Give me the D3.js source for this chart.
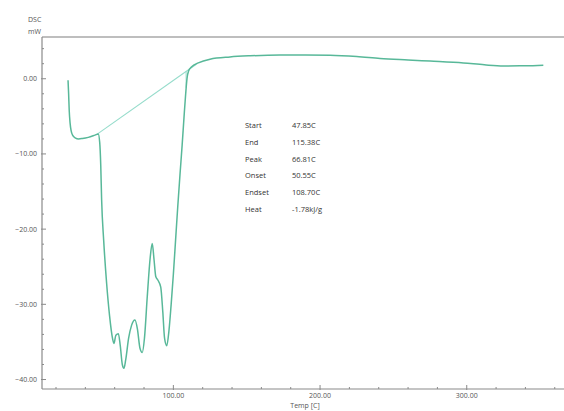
<!DOCTYPE html>
<html>
<head>
<meta charset="utf-8">
<script src="https://cdn.jsdelivr.net/npm/d3@7"></script>
<style>
  body { margin: 0; background: #fff; }
  svg { display: block; font-family: "Open Sans", "DejaVu Sans", sans-serif; }
</style>
</head>
<body>
<div id="chart"></div>
<script>
"use strict";

// DSC curve: temperature [C], heat flow [mW]
const temps = [28.2, 28.6, 29.0, 29.6, 30.3, 31.3, 33.0, 35.5, 38.0, 42.0, 46.6, 48.8, 49.8, 50.5, 51.1, 52.5, 54.5,
  56.5, 58.5, 59.5, 60.8, 62.5, 63.8, 65.2, 66.3, 67.5, 69.5, 71.5, 73.8, 75.5, 77.2, 78.8,
  80.3, 82.2, 84.2, 85.6, 86.8, 88.0, 89.5, 91.4, 92.8, 94.0, 95.5, 97.0, 98.5, 100.0, 101.5,
  103.0, 104.5, 106.0, 107.3, 108.4, 109.3, 110.3, 112.5, 117.0, 125.0, 138.6, 152.3, 172.7, 190.0,
  206.8, 225.0, 240.9, 260.0, 275.0, 297.7, 312.0, 325.0, 340.0, 352.2];
const flows = [-0.2, -2.0, -4.2, -5.9, -6.9, -7.5, -7.85, -8.0, -7.95, -7.8, -7.5, -7.35, -8.5, -11.5, -16.1, -21.5, -27.2,
  -31.5, -34.5, -35.2, -34.1, -33.9, -35.5, -38.0, -38.5, -37.4, -34.5, -32.8, -32.1, -33.3, -35.8, -36.4,
  -34.5, -29.0, -23.8, -21.9, -24.0, -26.3, -26.8, -27.7, -31.0, -34.5, -35.5, -33.5, -30.0, -26.0, -21.5,
  -17.0, -12.8, -8.8, -5.0, -2.0, 0.0, 1.0, 1.6, 2.1, 2.6, 2.9, 3.05, 3.15, 3.15,
  3.12, 2.95, 2.7, 2.5, 2.35, 2.1, 1.85, 1.7, 1.72, 1.8];

// peak baseline (start -> end) and endset marker
const baseTemps = [47.85, 115.38];
const baseFlows = [-7.4, 1.9];
const endsetTemp = 108.70;
const endsetFlows = [1.0, -1.2];

// analysis results table
const resultLabels = ["Start", "End", "Peak", "Onset", "Endset", "Heat"];
const resultValues = ["47.85C", "115.38C", "66.81C", "50.55C", "108.70C", "-1.78kJ/g"];

// axis ticks
const xMajor = [100, 200, 300];
const yMajor = [0, -10, -20, -30, -40];

const W = 564, H = 411;
const plot = { left: 42, right: 564, top: 37, bottom: 389 };

const svg = d3.select("#chart").append("svg")
  .attr("width", W).attr("height", H);

const x = d3.scaleLinear().domain([10.45, 366.3]).range([plot.left, plot.right]);
const y = d3.scaleLinear().domain([5.55, -41.26]).range([plot.top, plot.bottom]);

const axisColor = "#8a8a8a";
const textColor = "#555";

// top frame line
svg.append("line")
  .attr("x1", plot.left).attr("x2", plot.right).attr("y1", plot.top).attr("y2", plot.top)
  .attr("stroke", "#a8a8a8").attr("stroke-width", 1.3);

// y axis (ticks pointing inward)
const yMinor = d3.range(4, -41, -2).filter(v => !yMajor.includes(v));
const yAxis = svg.append("g").attr("transform", `translate(${plot.left},0)`);
yAxis.append("line").attr("x1", 0).attr("x2", 0).attr("y1", plot.top).attr("y2", plot.bottom)
  .attr("stroke", axisColor).attr("stroke-width", 1.2);
yAxis.selectAll(".ymin").data(yMinor).join("line")
  .attr("x1", 0).attr("x2", 2).attr("y1", d => y(d)).attr("y2", d => y(d))
  .attr("stroke", axisColor);
yAxis.selectAll(".ymaj").data(yMajor).join("line")
  .attr("x1", -1).attr("x2", 4).attr("y1", d => y(d)).attr("y2", d => y(d))
  .attr("stroke", axisColor);
yAxis.selectAll("text").data(yMajor).join("text")
  .attr("x", -5).attr("y", d => y(d)).attr("dy", "0.35em")
  .attr("text-anchor", "end").attr("font-size", 7).attr("fill", textColor)
  .text(d => d3.format(".2f")(d));

// x axis
const xMinor = d3.range(20, 366, 20).filter(v => !xMajor.includes(v));
const xAxis = svg.append("g").attr("transform", `translate(0,${plot.bottom})`);
xAxis.append("line").attr("x1", plot.left).attr("x2", plot.right).attr("y1", 0).attr("y2", 0)
  .attr("stroke", axisColor).attr("stroke-width", 1.2);
xAxis.selectAll(".xmin").data(xMinor).join("line")
  .attr("x1", d => x(d)).attr("x2", d => x(d)).attr("y1", 0).attr("y2", -2)
  .attr("stroke", axisColor);
xAxis.selectAll(".xmaj").data(xMajor).join("line")
  .attr("x1", d => x(d)).attr("x2", d => x(d)).attr("y1", 1).attr("y2", -4)
  .attr("stroke", axisColor);
xAxis.selectAll("text").data(xMajor).join("text")
  .attr("x", d => x(d)).attr("y", 9)
  .attr("text-anchor", "middle").attr("font-size", 7).attr("fill", textColor)
  .text(d => d3.format(".2f")(d));

// axis titles
svg.append("text").attr("x", 28).attr("y", 22).attr("font-size", 7).attr("fill", textColor).text("DSC");
svg.append("text").attr("x", 28).attr("y", 34).attr("font-size", 7).attr("fill", textColor).text("mW");
svg.append("text").attr("x", 305).attr("y", 408).attr("text-anchor", "middle")
  .attr("font-size", 7).attr("fill", textColor).text("Temp  [C]");

// baseline and endset marker
svg.append("line")
  .attr("x1", x(baseTemps[0])).attr("y1", y(baseFlows[0]))
  .attr("x2", x(baseTemps[1])).attr("y2", y(baseFlows[1]))
  .attr("stroke", "#95dccb").attr("stroke-width", 1.1);
svg.append("line")
  .attr("x1", x(endsetTemp)).attr("y1", y(endsetFlows[0]))
  .attr("x2", x(endsetTemp)).attr("y2", y(endsetFlows[1]))
  .attr("stroke", "#95dccb").attr("stroke-width", 1);

// main curve
const pts = temps.map((t, i) => [t, flows[i]]);
const line = d3.line().x(d => x(d[0])).y(d => y(d[1])).curve(d3.curveMonotoneX);
svg.append("path").datum(pts)
  .attr("d", line).attr("fill", "none")
  .attr("stroke", "#58b899").attr("stroke-width", 1.5)
  .attr("stroke-linejoin", "round");

// results table
const table = svg.append("g").attr("font-size", 7.5).attr("fill", "#333");
table.selectAll(".lbl").data(resultLabels).join("text")
  .attr("x", 245).attr("y", (d, i) => 128 + i * 16.8).text(d => d);
table.selectAll(".val").data(resultValues).join("text")
  .attr("x", 292).attr("y", (d, i) => 128 + i * 16.8).text(d => d);
</script>
</body>
</html>
